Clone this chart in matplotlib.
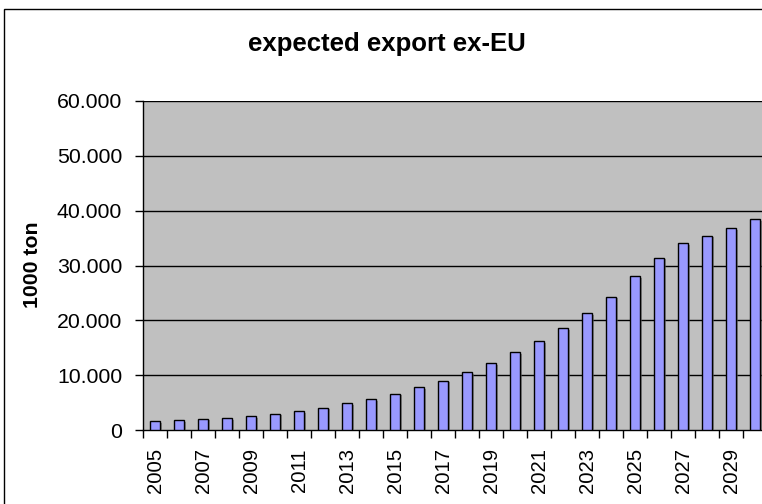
import matplotlib
matplotlib.use("Agg")
import matplotlib.pyplot as plt
from matplotlib.patches import Rectangle
import matplotlib.patheffects as pe
import numpy as np

# Expected export outside the EU, in 1000 ton
years = list(range(2005, 2031))
export_kton = [1600, 1750, 2050, 2200, 2500, 3000, 3450, 4100, 4900, 5650,
               6650, 7800, 9000, 10500, 12200, 14150, 16150, 18600, 21300,
               24300, 28000, 31450, 34050, 35450, 36850, 38450]
y_ticks = [0, 10000, 20000, 30000, 40000, 50000, 60000]
y_tick_labels = ["0", "10.000", "20.000", "30.000", "40.000", "50.000", "60.000"]

plt.rcParams['font.family'] = ['Liberation Sans', 'DejaVu Sans']

W, H = 762, 504
fig = plt.figure(figsize=(W / 100, H / 100), dpi=100)
fig.patch.set_facecolor('white')

# chart frame
fig.add_artist(Rectangle((4 / W, -0.05), 1.1, 1 - 9 / H + 0.05,
                         transform=fig.transFigure, fill=False,
                         edgecolor='black', linewidth=1.0))

left, right = 143 / W, 767 / W
bottom, top = 1 - 430 / H, 1 - 101 / H
ax = fig.add_axes([left, bottom, right - left, top - bottom])
ax.set_facecolor('#C0C0C0')

x = np.arange(len(years))
ax.set_axisbelow(True)
for v in y_ticks[1:]:
    ax.axhline(v, color='black', linewidth=1.0, zorder=1)

bars = ax.bar(x, export_kton, width=0.44, color='#9999FF',
              edgecolor='black', linewidth=1.0, zorder=3)
for b in bars:
    b.set_path_effects([pe.SimplePatchShadow(offset=(1.5, -1.2),
                                             shadow_rgbFace='#606060', alpha=0.6),
                        pe.Normal()])

ax.set_xlim(-0.5, len(years) - 0.5)
ax.set_ylim(0, 60000)

ax.set_yticks(y_ticks)
ax.set_yticklabels(y_tick_labels, fontsize=15.3)
ax.tick_params(axis='y', direction='out', length=6, width=1, pad=9)

ax.set_xticks(x[::2])
ax.set_xticklabels([str(y) for y in years[::2]], rotation=90, fontsize=14.6)
ax.tick_params(axis='x', which='major', length=0, pad=13)
ax.set_xticks(np.arange(len(years) + 1) - 0.5, minor=True)
ax.tick_params(axis='x', which='minor', direction='out', length=6, width=1)

for s in ['top', 'right']:
    ax.spines[s].set_visible(False)
ax.spines['left'].set_linewidth(1.0)
ax.spines['bottom'].set_linewidth(1.0)

fig.text(387 / W, 1 - 51 / H, "expected export ex-EU", fontsize=18.5,
         fontweight='bold', ha='center', va='baseline')
fig.text(33 / W, 1 - 265 / H, "1000 ton", fontsize=15.3, fontweight='bold',
         rotation=90, ha='center', va='center')

fig.savefig("out.png", dpi=100)
